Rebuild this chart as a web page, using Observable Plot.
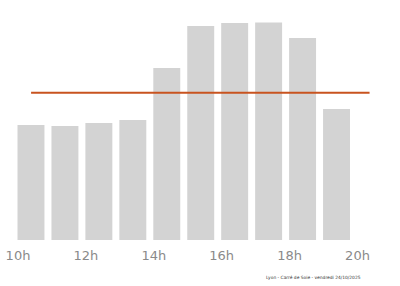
<!DOCTYPE html>
<html>
<head>
<meta charset="utf-8">
<script src="https://cdn.jsdelivr.net/npm/d3@7"></script>
<script src="https://cdn.jsdelivr.net/npm/@observablehq/plot@0.6"></script>
<style>
  html, body { margin: 0; padding: 0; background: #fff; }
</style>
</head>
<body>
<div id="chart"></div>
<script>
// Data
const hours = [10, 11, 12, 13, 14, 15, 16, 17, 18, 19];
const values = [115, 114, 117, 120, 172, 214, 217, 217.5, 202, 131];
const average = 147.7;
const averageStart = 10.4;
const averageEnd = 20.37;
const tickHours = [10, 12, 14, 16, 18, 20];
const caption = "Lyon - Carré de Soie - vendredi 24/10/2025";

const bars = hours.map((h, i) => ({start: h, end: h + 1, value: values[i]}));

const chart = Plot.plot({
  width: 400,
  height: 286,
  marginLeft: 17.5,
  marginRight: 43,
  marginTop: 0,
  marginBottom: 46,
  style: {fontFamily: "DejaVu Sans, sans-serif", background: "#fff"},
  x: {type: "linear", domain: [10, 20], ticks: tickHours, tickFormat: d => d + "h", tickSize: 0, tickPadding: 10},
  y: {domain: [0, 240], axis: null},
  marks: [
    Plot.rectY(bars, {x1: "start", x2: "end", y: "value", fill: "#d3d3d3", insetLeft: 0, insetRight: 7}),
    Plot.ruleY([average], {x1: averageStart, x2: averageEnd, stroke: "#c8531f", strokeWidth: 2}),
    Plot.axisX({ticks: tickHours, tickFormat: d => d + "h", tickSize: 0, tickPadding: 10, fontSize: 13, fill: "#8a8a8a", stroke: null}),
    Plot.text([caption], {frameAnchor: "bottom-right", textAnchor: "end", dx: 3, dy: 38, fontSize: 4.4, fill: "#333"})
  ]
});
document.getElementById("chart").appendChild(chart);
</script>
</body>
</html>
